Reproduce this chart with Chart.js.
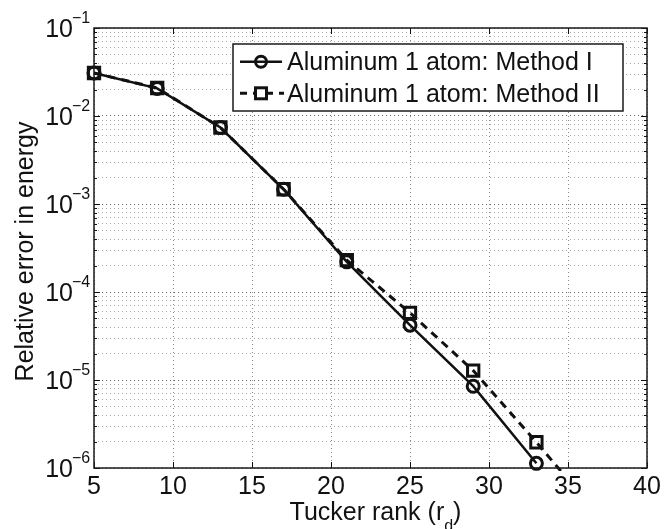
<!DOCTYPE html>
<html>
<head>
<meta charset="utf-8">
<script src="https://cdn.jsdelivr.net/npm/chart.js@4/dist/chart.umd.min.js"></script>
<style>
  html, body { margin: 0; padding: 0; background: #fff; }
</style>
</head>
<body>
<canvas id="myChart" width="666" height="529"></canvas>
<script>
// values
const ranks1 = [5, 9, 13, 17, 21, 25, 29, 33];
const error1 = [3.08e-2, 2.06e-2, 7.4e-3, 1.47e-3, 2.2e-4, 4.2e-5, 8.5e-6, 1.13e-6];
const ranks2 = [5, 9, 13, 17, 21, 25, 29, 33, 37];
const error2 = [3.08e-2, 2.08e-2, 7.4e-3, 1.47e-3, 2.3e-4, 5.8e-5, 1.28e-5, 1.96e-6, 2.8e-7];
const seriesNames = ["Aluminum 1 atom: Method I", "Aluminum 1 atom: Method II"];
const xTicks = [5, 10, 15, 20, 25, 30, 35, 40];
const yExps = [-6, -5, -4, -3, -2, -1];
const xTitle = ["Tucker rank (r", "d", ")"];
const yTitle = "Relative error in energy";

const FONT = '"Liberation Sans", Arial, Helvetica, sans-serif';
const ctx = document.getElementById("myChart");

const toPoints = (xs, ys) => xs.map((x, i) => ({ x: x, y: ys[i] }));

const isDecade = (v) => Math.abs(Math.log10(v) - Math.round(Math.log10(v))) < 1e-6;

const decorPlugin = {
  id: "decor",
  afterDraw(chart) {
    const c = chart.ctx;
    const a = chart.chartArea;
    const xs = chart.scales.x;
    const ys = chart.scales.y;
    c.save();

    // inner tick marks
    c.strokeStyle = "#111";
    c.lineWidth = 1;
    xTicks.forEach((t) => {
      const px = Math.round(xs.getPixelForValue(t)) + 0.5;
      c.beginPath();
      c.moveTo(px, a.bottom); c.lineTo(px, a.bottom - 6);
      c.moveTo(px, a.top); c.lineTo(px, a.top + 6);
      c.stroke();
    });
    ys.ticks.forEach((t) => {
      const py = Math.round(ys.getPixelForValue(t.value)) + 0.5;
      const len = isDecade(t.value) ? 6 : 3;
      c.beginPath();
      c.moveTo(a.left, py); c.lineTo(a.left + len, py);
      c.moveTo(a.right, py); c.lineTo(a.right - len, py);
      c.stroke();
    });

    // frame
    c.strokeStyle = "#1a1a1a";
    c.lineWidth = 1.5;
    c.strokeRect(a.left, a.top, a.right - a.left, a.bottom - a.top);

    // y tick labels 10^n
    c.fillStyle = "#111";
    yExps.forEach((e) => {
      const py = ys.getPixelForValue(Math.pow(10, e));
      c.font = "25px " + FONT;
      c.textAlign = "right";
      c.textBaseline = "alphabetic";
      c.fillText("10", 73, py + 9);
      c.font = "16px " + FONT;
      c.textAlign = "left";
      c.fillText("\u2212" + Math.abs(e), 72, py - 5);
    });

    // y title
    c.save();
    c.font = "25px " + FONT;
    c.translate(33, 251.5);
    c.rotate(-Math.PI / 2);
    c.textAlign = "center";
    c.textBaseline = "alphabetic";
    c.fillText(yTitle, 0, 0);
    c.restore();

    // x title with subscript
    c.textAlign = "left";
    c.textBaseline = "alphabetic";
    c.font = "25px " + FONT;
    const w0 = c.measureText(xTitle[0]).width;
    c.font = "16px " + FONT;
    const w1 = c.measureText(xTitle[1]).width;
    c.font = "25px " + FONT;
    const w2 = c.measureText(xTitle[2]).width;
    let tx = (a.left + a.right) / 2 + 5 - (w0 + w1 + w2) / 2;
    c.fillText(xTitle[0], tx, 520);
    c.font = "16px " + FONT;
    c.fillText(xTitle[1], tx + w0, 531);
    c.font = "25px " + FONT;
    c.fillText(xTitle[2], tx + w0 + w1, 520);

    // legend
    const lx = 233, ly = 44, lw = 390, lh = 67;
    c.fillStyle = "#fff";
    c.fillRect(lx, ly, lw, lh);
    c.strokeStyle = "#1a1a1a";
    c.lineWidth = 1.5;
    c.strokeRect(lx, ly, lw, lh);

    const rows = [61.7, 93.3];
    c.strokeStyle = "#111";
    // row 1: solid + circle
    c.lineWidth = 2.5;
    c.setLineDash([]);
    c.beginPath();
    c.moveTo(240, rows[0]); c.lineTo(282, rows[0]);
    c.stroke();
    c.lineWidth = 3;
    c.beginPath();
    c.arc(261, rows[0], 5.5, 0, Math.PI * 2);
    c.stroke();
    // row 2: dashed + square
    c.lineWidth = 3;
    c.setLineDash([7, 6]);
    c.beginPath();
    c.moveTo(240, rows[1]); c.lineTo(284, rows[1]);
    c.stroke();
    c.setLineDash([]);
    c.fillStyle = "#fff";
    c.fillRect(255.5, rows[1] - 5.5, 11, 11);
    c.strokeRect(255.5, rows[1] - 5.5, 11, 11);

    c.fillStyle = "#111";
    c.font = "25px " + FONT;
    c.textAlign = "left";
    c.textBaseline = "alphabetic";
    c.fillText(seriesNames[0], 287, 70);
    c.fillText(seriesNames[1], 287, 101.5);

    c.restore();
  },
};

new Chart(ctx, {
  type: "line",
  data: {
    datasets: [
      {
        label: seriesNames[0],
        data: toPoints(ranks1, error1),
        borderColor: "#111",
        borderWidth: 2.5,
        pointStyle: "circle",
        pointRadius: 6,
        pointBorderWidth: 3,
        pointBorderColor: "#111",
        pointBackgroundColor: "rgba(0,0,0,0)",
        tension: 0,
        clip: { left: 8, top: 8, right: 8, bottom: 3 },
      },
      {
        label: seriesNames[1],
        data: toPoints(ranks2, error2),
        borderColor: "#111",
        borderWidth: 3,
        borderDash: [8, 6],
        pointStyle: "rect",
        pointRadius: 8,
        pointBorderWidth: 3,
        pointBorderColor: "#111",
        pointBackgroundColor: "rgba(0,0,0,0)",
        tension: 0,
        clip: { left: 8, top: 8, right: 8, bottom: 3 },
      },
    ],
  },
  options: {
    responsive: false,
    animation: false,
    devicePixelRatio: 1,
    layout: { padding: { top: 28, right: 19, left: 0, bottom: 0 } },
    plugins: {
      legend: { display: false },
      tooltip: { enabled: false },
    },
    scales: {
      x: {
        type: "linear",
        min: 5,
        max: 40,
        afterBuildTicks: (scale) => {
          scale.ticks = xTicks.map((v) => ({ value: v }));
        },
        afterFit: (scale) => {
          scale.height = 61;
        },
        ticks: {
          color: "#111",
          padding: 4,
          maxRotation: 0,
          autoSkip: false,
          font: { size: 25, family: FONT },
        },
        grid: {
          drawTicks: false,
          color: "#8a8a8a",
          lineWidth: 1,
        },
        border: { display: false, dash: [1, 3] },
      },
      y: {
        type: "logarithmic",
        min: 1e-6,
        max: 1e-1,
        afterBuildTicks: (scale) => {
          const t = [];
          yExps.forEach((e) => {
            for (let m = 1; m <= 9; m++) {
              const v = m * Math.pow(10, e);
              if (v <= 1e-1 * 1.0001) t.push({ value: v });
            }
          });
          scale.ticks = t;
        },
        afterFit: (scale) => {
          scale.width = 94;
        },
        ticks: { display: false },
        grid: {
          drawTicks: false,
          lineWidth: 1,
          color: (c) => (c.tick && isDecade(c.tick.value) ? "#666" : "#a8a8a8"),
        },
        border: { display: false, dash: [1, 3] },
      },
    },
  },
  plugins: [decorPlugin],
});
</script>
</body>
</html>
